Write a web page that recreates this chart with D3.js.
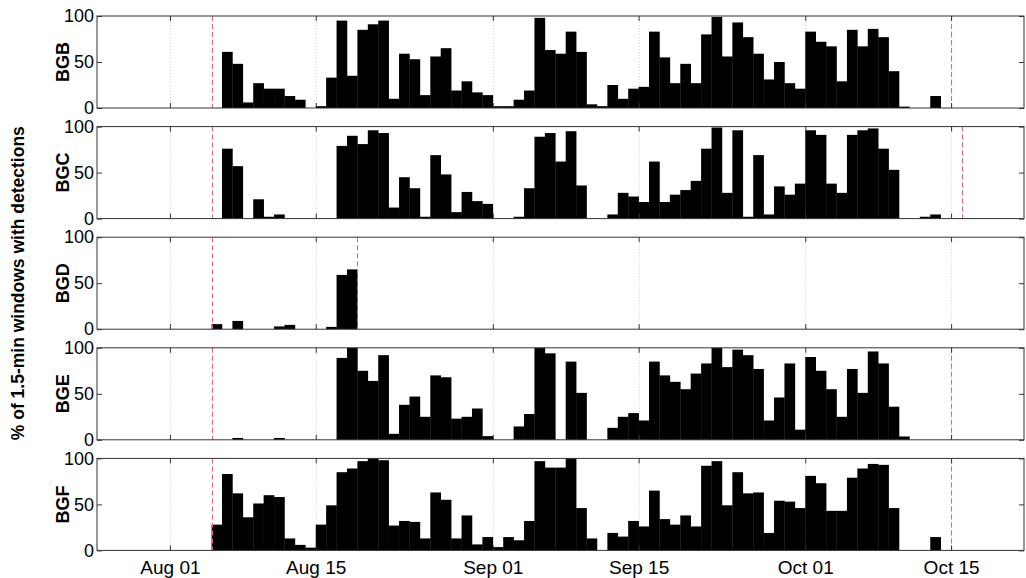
<!DOCTYPE html>
<html>
<head>
<meta charset="utf-8">
<script src="https://cdn.jsdelivr.net/npm/d3@7"></script>
<style>
html,body{margin:0;padding:0;background:#fff;}
svg{display:block;}
text{font-family:"Liberation Sans",Arial,sans-serif;}
</style>
</head>
<body>
<svg id="chart" width="1026" height="578"></svg>
<script>
// Day index 0 = Aug 01; each value is % of 1.5-min windows with detections for that day
const stations = ["BGB", "BGC", "BGD", "BGE", "BGF"];
const tickLabels = ["Aug 01", "Aug 15", "Sep 01", "Sep 15", "Oct 01", "Oct 15"];
const tickDates = ["2013-08-01", "2013-08-15", "2013-09-01", "2013-09-15", "2013-10-01", "2013-10-15"];
const yTicks = [0, 50, 100];

const BGB = [0,0,0,0,0,61,48,6,27,21,21,13,9,0,2,33,95,35,85,91,95,10,59,53,14,56,65,19,29,17,14,2,2,9,19,98,63,59,83,61,4,2,25,10,21,23,83,55,27,48,27,80,99,56,93,77,59,31,50,27,21,83,72,67,29,85,67,86,77,40,1.5,0,0,13];
const BGC = [0,0,0,0,0,76,57,0,21,2,4.5,0,0,0,0,0,79,90,81,96,93,12,45,33,2,69,48,7,29,19,16,0,0,2,33,89,93,62,95,36,0,0,4.5,28,24,18,62,18,26,31,41,76,99,28,96,2,69,4.5,35,26,38,96,91,38,28,91,96,98,76,53,0,0,2,4.5];
const BGD = [0,0,0,0,5.5,0,9,0,0,0,3,4.7,0,0,0,2.5,59,65];
const BGE = [0,0,0,0,0,0,2,0,0,0,2,0,0,0,0,0,89,100,75,64,92,6.5,38,47,25,70,68,23,25,34,4,0,0,14.5,28,100,94,0,85,51,0,0,13,25,29,21,85,70,63,55,72,83,100,79,98,92,77,21,46,83,11,90,75,55,25,77,51,96,83,36,3.6];
const BGF = [0,0,0,0,28,83,62,36,51,60,58,13,6,3,28,49,85,89,97,100,98,27,32,31,13,63,55,13,38,6.5,14.5,3.6,14.5,11,32,97,90,90,100,46,13,0,19,15,32,26,65,34,28,38,26,92,97,49,85,62,63,19,54,53,46,81,73,43,43,79,89,94,93,46,0,0,0,14.5];
const seriesValues = [BGB, BGC, BGD, BGE, BGF];
// deployment start / end (red dashed lines)
const deployStart = ["2013-08-05", "2013-08-05", "2013-08-05", "2013-08-05", "2013-08-05"];
const deployEnd = ["2013-10-15", "2013-10-16", "2013-08-19", "2013-10-15", "2013-10-15"];

const parse = d3.utcParse("%Y-%m-%d");
const day0 = parse("2013-08-01");
const svg = d3.select("#chart");

const left = 97, right = 1024;
const panelTop = 16, panelH = 92, panelStep = 110.6;
const FONT = "'Liberation Sans', Arial, sans-serif";

const x = d3.scaleUtc()
  .domain([parse("2013-07-25"), parse("2013-10-22")])
  .range([left, right]);

const tickD = tickDates.map(parse);

stations.forEach((name, i) => {
  const top = panelTop + i * panelStep;
  const y = d3.scaleLinear().domain([0, 100]).range([top + panelH, top]);
  const g = svg.append("g");
  const vals = seriesValues[i];

  // grid
  g.selectAll("line.grid").data(tickD).enter().append("line")
    .attr("class", "grid")
    .attr("x1", d => Math.round(x(d)) + 0.5).attr("x2", d => Math.round(x(d)) + 0.5)
    .attr("y1", top).attr("y2", top + panelH)
    .attr("stroke", "#d4d4d4").attr("stroke-width", 1)
    .attr("stroke-dasharray", "1,2");

  // bars
  const data = vals.map((v, k) => ({d: d3.utcDay.offset(day0, k), v})).filter(o => o.v > 0);
  g.selectAll("rect.bar").data(data).enter().append("rect")
    .attr("class", "bar")
    .attr("x", o => x(o.d))
    .attr("width", o => x(d3.utcDay.offset(o.d, 1)) - x(o.d) + 0.3)
    .attr("y", o => y(o.v))
    .attr("height", o => y(0) - y(o.v))
    .attr("fill", "#000");

  // red dashed deployment lines
  [deployStart[i], deployEnd[i]].forEach(s => {
    const xx = Math.round(x(parse(s))) + 0.5;
    g.append("line").attr("class", "deploy").attr("x1", xx).attr("x2", xx)
      .attr("y1", top).attr("y2", top + panelH)
      .style("stroke", "#e6647f").style("stroke-width", 1.1)
      .style("stroke-dasharray", "5,3");
  });

  // frame
  g.append("rect").attr("x", left).attr("y", top)
    .attr("width", right - left).attr("height", panelH)
    .attr("fill", "none").attr("stroke", "#333").attr("stroke-width", 1);

  // x ticks inward, top and bottom
  const xAxisB = d3.axisBottom(x).tickValues(tickD).tickSize(-5).tickPadding(10)
    .tickFormat(i === 4 ? ((d, k) => tickLabels[k]) : "");
  const gb = g.append("g").attr("transform", `translate(0,${top + panelH})`).call(xAxisB);
  const xAxisT = d3.axisTop(x).tickValues(tickD).tickSize(-5).tickFormat("");
  const gt = g.append("g").attr("transform", `translate(0,${top})`).call(xAxisT);
  [gb, gt].forEach(a => { a.select(".domain").remove(); a.selectAll(".tick line").attr("stroke", "#333"); });
  gb.selectAll(".tick text").attr("font-size", 19).attr("fill", "#000")
    .style("font-family", FONT);

  // y ticks
  const yAxisL = d3.axisLeft(y).tickValues(yTicks).tickSize(-5).tickPadding(8);
  const gl = g.append("g").attr("transform", `translate(${left},0)`).call(yAxisL);
  gl.select(".domain").remove();
  gl.selectAll(".tick line").attr("stroke", "#333");
  gl.selectAll(".tick text").attr("font-size", 18).attr("fill", "#000").attr("x", -3)
    .style("font-family", FONT);
  const yAxisR = d3.axisRight(y).tickValues(yTicks).tickSize(-5).tickFormat("");
  const gr = g.append("g").attr("transform", `translate(${right},0)`).call(yAxisR);
  gr.select(".domain").remove();
  gr.selectAll(".tick line").attr("stroke", "#333");

  // station label
  g.append("text")
    .attr("transform", `translate(69,${top + panelH / 2}) rotate(-90)`)
    .attr("text-anchor", "middle")
    .attr("font-size", 18).attr("font-weight", "bold")
    .text(name);
});

// overall y title
svg.append("text")
  .attr("transform", `translate(24,${panelTop + (4 * panelStep + panelH) / 2}) rotate(-90)`)
  .attr("text-anchor", "middle")
  .attr("font-size", 17.5).attr("font-weight", "bold")
  .text("% of 1.5-min windows with detections");
</script>
</body>
</html>
